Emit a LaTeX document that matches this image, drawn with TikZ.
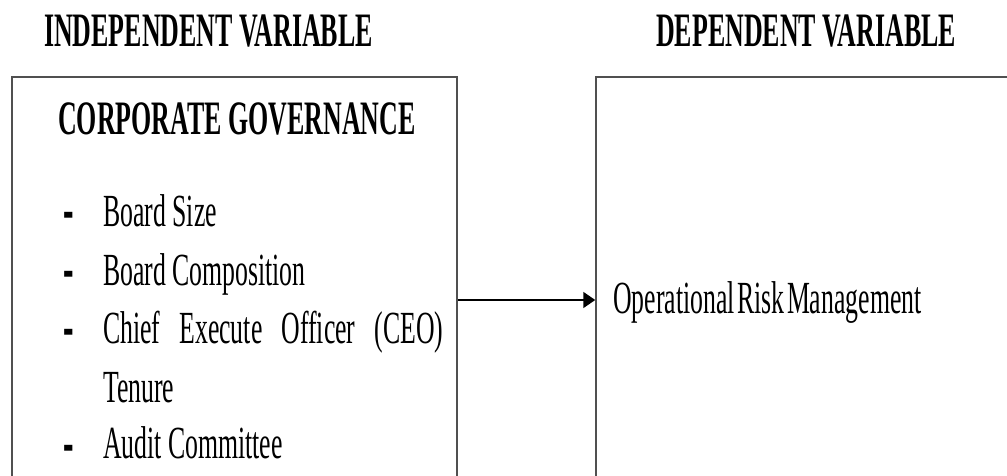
\documentclass[tikz,border=0pt]{standalone}
\usepackage{fontspec}
\setmainfont{Liberation Serif}[FakeStretch=0.56, BoldFeatures={FakeStretch=0.54}]
\usetikzlibrary{arrows.meta}
\definecolor{frame}{HTML}{505050}
\begin{document}
\begin{tikzpicture}[x=1pt,y=-1pt,
  varbox/.style={draw=frame, line width=1.5pt, inner sep=0pt},
  heading/.style={anchor=base west, inner sep=0pt,
    font=\fontsize{48}{56}\selectfont\bfseries},
  entry/.style={anchor=base west, inner sep=0pt,
    font=\fontsize{46}{56}\selectfont},
  dashmark/.style={anchor=center, inner sep=0pt,
    font=\fontsize{46}{56}\selectfont\bfseries},
  link/.style={line width=1.8pt, -{Triangle[length=12pt,width=16pt]}}
]
\useasboundingbox (0,0) rectangle (1007,476);
\clip (0,0) rectangle (1007,476);

\newcommand{\dashbullet}{\scalebox{1.27}[1.5]{-}}

% column headings
\node[heading] (ivhead) at (44,47) {INDEPENDENT VARIABLE};
\node[heading] (dvhead) at (656,47) {DEPENDENT VARIABLE};

% the two variable boxes
\node[varbox, minimum width=445pt, minimum height=399.6pt] (iv) at (234.5,276.8) {};
\node[varbox, minimum width=520pt, minimum height=460pt] (dv) at (856,307) {};

% independent variable contents
\node[heading] (cg) at (58,135) {CORPORATE GOVERNANCE};
\node[dashmark] (b1) at (69,221.9) {\dashbullet};
\node[entry] (e1) at (103,226) {Board Size};
\node[dashmark] (b2) at (69,280.9) {\dashbullet};
\node[entry] (e2) at (103,285) {Board Composition};
\node[dashmark] (b3) at (69,338.9) {\dashbullet};
\node[entry] (e3) at (103,343) {\makebox[340pt][s]{Chief Execute Officer (CEO)}};
\node[entry] (e3b) at (103,402) {Tenure};
\node[dashmark] (b4) at (69,454.9) {\dashbullet};
\node[entry] (e4) at (103,458) {Audit Committee};

% dependent variable contents
\node[entry] (orm) at (613,313) {\spaceskip=2.5pt Operational Risk Management};

% relationship
\coordinate (arrowrow) at (0,300);
\draw[link] (iv.east |- arrowrow) -- (dv.west |- arrowrow);
\end{tikzpicture}
\end{document}
